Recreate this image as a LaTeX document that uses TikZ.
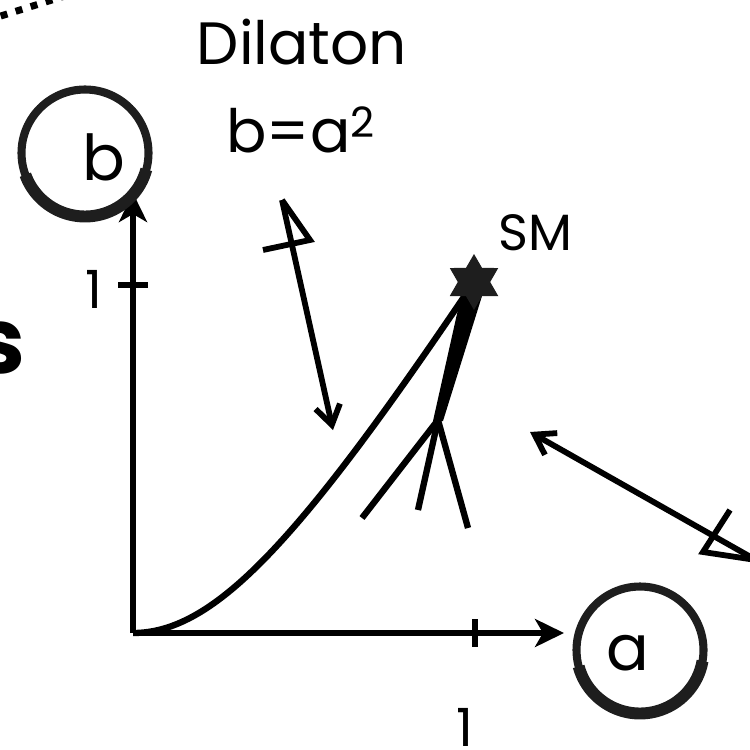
\documentclass[tikz,border=0pt]{standalone}
\usepackage{fontspec}
\setmainfont{Poppins}
\usetikzlibrary{arrows.meta, positioning, shapes.geometric}
\definecolor{dilink}{HTML}{000000}
\definecolor{dilbrush}{HTML}{1E1E1E}
\tikzset{
  dilaxis/.style   = {draw=dilink, line width=3.9pt,
                      -{Stealth[length=5.8mm, width=5.6mm, inset=1.6mm]}},
  diltick/.style   = {draw=dilink, line width=3.9pt},
  dilcurve/.style  = {draw=dilink, line width=3.6pt},
  dilptr/.style    = {draw=dilink, line width=3.3pt,
                      -{Straight Barb[length=3.8mm, width=5mm]}},
  dilfletch/.style = {draw=dilink, line width=3.3pt, line join=miter},
  dildot/.style    = {rectangle, fill=dilink, minimum size=0.14cm,
                      inner sep=0pt, rotate=17},
  dilbrushc/.style = {circle, draw=dilbrush, line width=4.6pt,
                      minimum size=2.54cm, inner sep=0pt, outer sep=0pt},
  dilthick/.style  = {draw=dilbrush, line width=6.8pt},
  dilstar/.style   = {star, star points=6, star point ratio=1.73,
                      fill=dilbrush, minimum size=1.12cm, inner sep=0pt},
  diltxt/.style    = {font=\fontsize{34}{40}\selectfont, inner sep=0pt, anchor=base},
  dilsm/.style     = {font=\fontsize{29}{34}\selectfont, inner sep=0pt, anchor=base},
  dilnum/.style    = {font=\fontsize{30}{36}\selectfont, inner sep=0pt, anchor=base},
  dilletter/.style = {font=\fontsize{36}{42}\selectfont, inner sep=0pt, anchor=base},
  dilbig/.style    = {font=\fontsize{52}{60}\selectfont\bfseries, inner sep=0pt,
                      anchor=base east},
}
\begin{document}
\begin{tikzpicture}[x=0.02cm, y=-0.02cm]
  \useasboundingbox (0,0) rectangle (750,750);
  \clip (0,0) rectangle (750,750);

  % axes and ticks
  \coordinate (orig) at (133,633);
  \coordinate (xend) at (564,633);
  \coordinate (yend) at (133,193);
  \coordinate (xone) at (475,633);
  \coordinate (yone) at (133,285);
  \draw[dilaxis] (orig) -- (xend);
  \draw[dilaxis] (orig) -- (yend);
  \draw[diltick] ([yshift=0.28cm]xone) -- ([yshift=-0.28cm]xone);
  \draw[diltick] ([xshift=-0.3cm]yone) -- ([xshift=0.3cm]yone);
  \node[dilnum] (xonelbl) at (465,746) {1};
  \node[dilnum] (yonelbl) at (94,308) {1};

  % axis names in brush circles
  \node[dilbrushc] (bcirc) at (85,153) {};
  \draw[dilthick] (bcirc.200) arc[start angle=200, end angle=345, radius=1.27cm];
  \node[dilletter] (blbl) at (104,180) {b};
  \node[dilbrushc] (acirc) at (640,650) {};
  \draw[dilthick] (acirc.195) arc[start angle=195, end angle=350, radius=1.27cm];
  \node[dilletter] (albl) at (628,670) {a};

  % labels
  \node[diltxt] (dilname) at (302,65) {Dilaton};
  \node[diltxt] (dilrel) at (301,153) {b=a\textsuperscript{2}};
  \node[dilsm] (smlbl) at (535,250) {SM};
  \node[dilbig] (sfrag) at (26,373) {s};
  \foreach \k in {0,...,4}
    \node[dildot] (dot\k) at ({4+15*\k},{15-4.7*\k}) {};

  % dilaton line and SM point
  \coordinate (smc) at (474,282);
  \draw[dilcurve] (orig) .. controls (215,633) and (300,540) .. (smc);
  \coordinate (brk) at (438,420);
  \fill[dilink] (461,296) -- (482,296) -- (443,421) -- (433,421) -- cycle;
  \coordinate (brA) at (362,518);
  \coordinate (brB) at (418,510);
  \coordinate (brC) at (468,528);
  \draw[dilcurve] (brk) -- (brA);
  \draw[dilcurve] (brk) -- (brB);
  \draw[dilcurve] (brk) -- (brC);
  \node[dilstar] (sm) at (smc) {};

  % pointers
  \coordinate (tailA) at (282,200);
  \coordinate (tipA) at (333,430);
  \draw[dilptr] (tailA) -- (tipA);
  \draw[dilfletch] (263,250) -- (310,240) -- (tailA);
  \coordinate (tailB) at (756,560);
  \coordinate (tipB) at (530,432);
  \draw[dilptr] (tailB) -- (tipB);
  \draw[dilfletch] (730,510) -- (703,552) -- (tailB);
\end{tikzpicture}
\end{document}
